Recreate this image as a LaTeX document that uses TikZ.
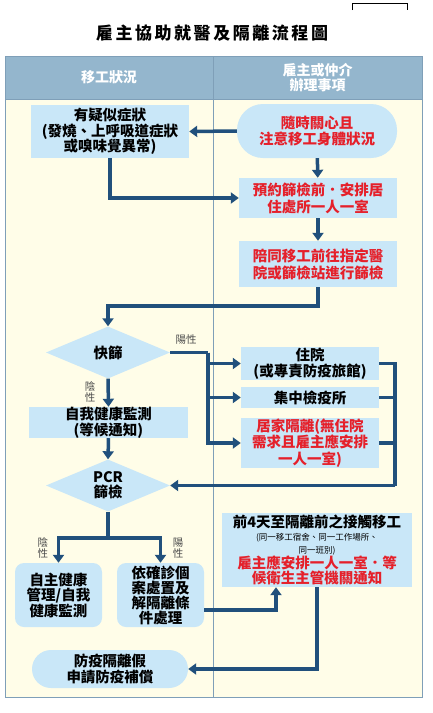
\documentclass[tikz,border=0pt]{standalone}
\usepackage{fontspec}
\setmainfont{Noto Sans CJK TC}
\usetikzlibrary{shapes.geometric,arrows.meta,positioning,calc}
\definecolor{headblue}{HTML}{94B6CD}
\definecolor{paper}{HTML}{FFFDE8}
\definecolor{boxblue}{HTML}{C9E7F8}
\definecolor{flowblue}{HTML}{21507C}
\definecolor{alertred}{HTML}{E5202A}
\definecolor{framegray}{HTML}{7F9FB8}
\newcommand{\flowfont}{\fontsize{14.5}{15.5}\selectfont\bfseries}
\newcommand{\smallnote}{\fontsize{8.5}{10}\selectfont\mdseries}
\newcommand{\contactred}{\fontsize{14.5}{16}\selectfont\bfseries\color{alertred}}

\begin{document}
\begin{tikzpicture}[x=1pt, y=-1pt,
  stepbox/.style={fill=boxblue, inner sep=0pt, align=center, font=\flowfont},
  pill/.style={stepbox, rounded corners=26pt},
  choice/.style={diamond, fill=boxblue, inner sep=0pt, aspect=2.4,
                 minimum width=124pt, minimum height=52pt, align=center, font=\flowfont},
  redtxt/.style={text=alertred},
  head/.style={text=white, align=center, font=\fontsize{14}{15}\selectfont\bfseries},
  tag/.style={text=black!70, align=center, inner sep=0pt,
              font=\fontsize{10.5}{11}\selectfont},
  arr/.style={-{Triangle[length=8pt,width=11pt]}, line width=3.5pt, draw=flowblue},
  bus/.style={line width=3.5pt, draw=flowblue}
]
\useasboundingbox (0,0) rectangle (433,713);

% ── Title and table frame ─────────────────────────────────────────────────
\draw[line width=0.8pt] (352,10) |- (407,3) -- (407,10);
\node[font=\fontsize{17}{20}\selectfont\bfseries\addfontfeature{LetterSpace=15}]
  (title) at (212,33) {雇主協助就醫及隔離流程圖};

\fill[paper] (5,56) rectangle (422,697);
\fill[headblue] (5,56) rectangle (422,99);
\draw[framegray, line width=1pt] (5,56) rectangle (422,697);
\draw[framegray, line width=0.8pt] (213,56) -- (213,697);
\draw[framegray, line width=0.8pt] (5,99) -- (422,99);

\node[head] (hworker) at (109,77.5) {移工狀況};
\node[head] (hboss)   at (317.5,77.5) {雇主或仲介\\辦理事項};

% ── Screening column ──────────────────────────────────────────────────────
\node[stepbox, minimum width=158pt, minimum height=53pt] (symptom) at (110,131.5)
  {有疑似症狀\\(發燒、上呼吸道症狀\\或嗅味覺異常)};
\node[pill, redtxt, minimum width=160pt, minimum height=54pt] (care) at (317,131)
  {隨時關心且\\注意移工身體狀況};
\node[stepbox, redtxt, minimum width=158pt, minimum height=40pt,
      font=\fontsize{14.5}{17}\selectfont\bfseries] (book) at (318,198)
  {預約篩檢前．安排居\\住處所一人一室};
\node[stepbox, redtxt, minimum width=158pt, minimum height=46pt,
      font=\fontsize{14.5}{17}\selectfont\bfseries] (escort) at (318,264)
  {陪同移工前往指定醫\\院或篩檢站進行篩檢};

% ── Test results ──────────────────────────────────────────────────────────
\node[choice] (rapid) at (108,352.5) {快篩};
\node[stepbox, minimum width=159pt, minimum height=29pt] (monitor) at (108.5,422.5)
  {自我健康監測\\(等候通知)};
\node[choice, font=\fontsize{14.5}{15}\selectfont\bfseries] (pcr) at (108,485.5) {PCR\\篩檢};

\node[stepbox, minimum width=138pt, minimum height=33pt] (hosp) at (310,363.5)
  {住院\\(或專責防疫旅館)};
\node[stepbox, minimum width=138pt, minimum height=21pt] (camp) at (310,397.5)
  {集中檢疫所};
\node[stepbox, redtxt, minimum width=138pt, minimum height=50pt,
      font=\fontsize{14.5}{16.5}\selectfont\bfseries] (home) at (310,443)
  {居家隔離(無住院\\需求且雇主應安排\\一人一室)};

\node[stepbox, rounded corners=9pt, minimum width=87pt, minimum height=64pt] (selfm) at (58.5,595)
  {自主健康\\管理/自我\\健康監測};
\node[stepbox, rounded corners=9pt, minimum width=87pt, minimum height=64pt,
      font=\fontsize{14.5}{15}\selectfont\bfseries] (confirm) at (160.5,595)
  {依確診個\\案處置及\\解隔離條\\件處理};

\node[stepbox, minimum width=190pt, minimum height=74pt,
      font=\fontsize{14.5}{13}\selectfont\bfseries] (contact) at (317,550)
  {前4天至隔離前之接觸移工\\
   \smallnote (同一移工宿舍、同一工作場所、\\
   \smallnote 同一班別)\\
   \contactred 雇主應安排一人一室．等\\
   \contactred 候衛生主管機關通知};
\node[pill, rounded corners=19pt, minimum width=156pt, minimum height=38pt] (leave) at (110,669)
  {防疫隔離假\\申請防疫補償};

% ── Labels ────────────────────────────────────────────────────────────────
\node[tag] (rpos) at (186,340) {陽性};
\node[tag] (rneg) at (90,392) {陰\\性};
\node[tag] (pneg) at (43,548) {陰\\性};
\node[tag] (ppos) at (178,548) {陽\\性};

% ── Connectors ────────────────────────────────────────────────────────────
\draw[arr] (care.west) -- (symptom.east);
\draw[arr] (care) -- (book);
\draw[arr] (symptom.south) |- (book.west);
\draw[arr] (book) -- (escort);
\draw[arr] (escort.south) -- ++(0,19) -| (rapid.north);

\coordinate (posbus) at (208,352.5);
\draw[bus] (rapid.east) -- (posbus);
\draw[arr] (posbus) |- (hosp.west);
\draw[arr] (posbus) |- (camp.west);
\draw[arr] (posbus) |- (home.west);

\coordinate (retbus) at (395,485.5);
\draw[bus] (hosp.east) -| (retbus);
\draw[bus] (camp.east) -- (camp.east -| retbus);
\draw[bus] (home.east) -- (home.east -| retbus);
\draw[arr] (retbus) -- (pcr.east);

\draw[arr] (rapid.south) -- (monitor.north);
\draw[arr] (monitor.south) -- (pcr.north);

\coordinate (pcrsplit) at (108,538);
\draw[bus] (pcr.south) -- (pcrsplit);
\draw[arr] (pcrsplit) -| (selfm.north);
\draw[arr] (pcrsplit) -| (confirm.north);

\draw[arr] ([yshift=-15pt]confirm.east) -| ([xshift=-41pt]contact.south);
\draw[arr] (contact.south) |- (leave.east);
\end{tikzpicture}
\end{document}
